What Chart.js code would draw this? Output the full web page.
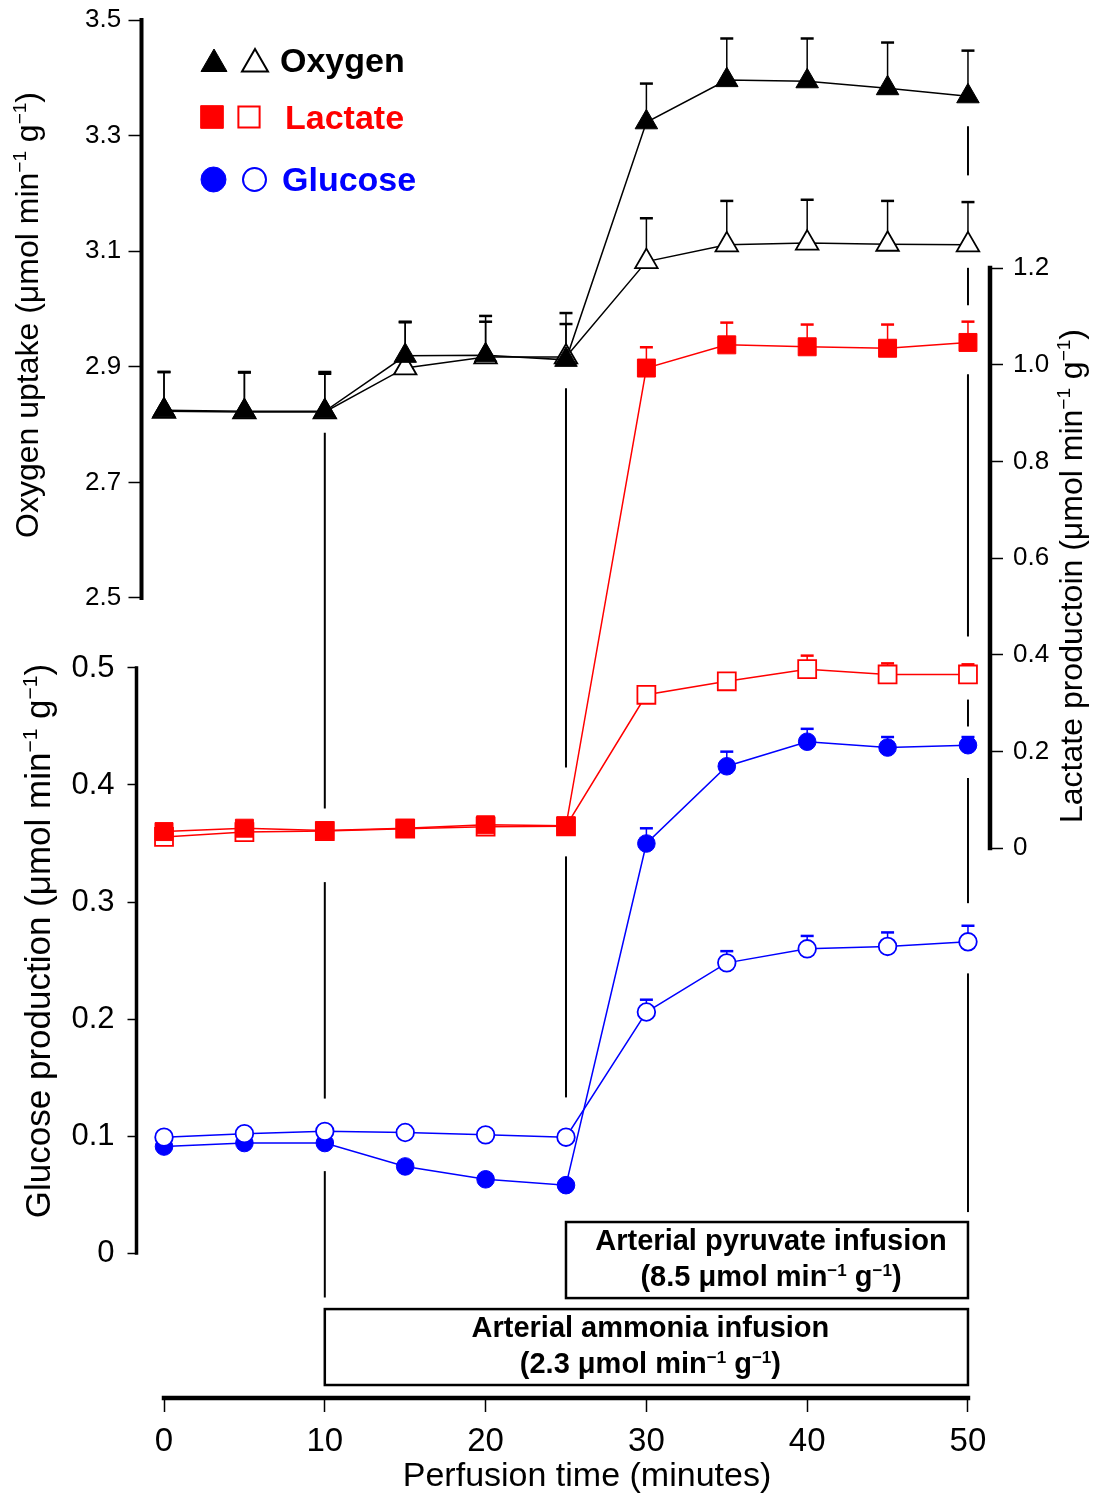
<!DOCTYPE html>
<html>
<head>
<meta charset="utf-8">
<title>Perfusion time course</title>
<script src="https://cdn.jsdelivr.net/npm/chart.js@4.4.1/dist/chart.umd.min.js"></script>
<style>
  html, body { margin: 0; padding: 0; background: #fff; }
  #wrap { position: relative; width: 1096px; height: 1495px; }
</style>
</head>
<body>
<div id="wrap"><canvas id="chart"></canvas></div>
<script>
const FONT = '"Liberation Sans", Arial, Helvetica, sans-serif';
const BLACK = '#000000';
const RED = '#ff0000';
const BLUE = '#0000ff';

// sampling times (minutes)
const times = [0, 5, 10, 15, 20, 25, 30, 35, 40, 45, 50];

// oxygen uptake (umol/min/g), filled and open symbols, + SEM
const oxygenFilled    = [2.825, 2.823, 2.823, 2.919, 2.920, 2.912, 3.323, 3.396, 3.394, 3.382, 3.368];
const oxygenFilledErr = [0.066, 0.068, 0.068, 0.058, 0.068, 0.081, 0.067, 0.072, 0.074, 0.079, 0.079];
const oxygenOpen      = [2.823, 2.822, 2.822, 2.898, 2.917, 2.917, 3.082, 3.111, 3.114, 3.112, 3.111];
const oxygenOpenErr   = [0.068, 0.068, 0.066, 0.080, 0.061, 0.057, 0.075, 0.076, 0.075, 0.075, 0.074];

// lactate production
const lactateFilled    = [0.034, 0.041, 0.036, 0.041, 0.048, 0.046, 0.993, 1.041, 1.037, 1.034, 1.046];
const lactateFilledErr = [0.012, 0.012, 0.012, 0.012, 0.012, 0.012, 0.043, 0.046, 0.046, 0.049, 0.043];
const lactateOpen      = [0.023, 0.033, 0.035, 0.040, 0.044, 0.045, 0.317, 0.345, 0.370, 0.359, 0.359];
const lactateOpenErr   = [0.010, 0.010, 0.010, 0.010, 0.010, 0.010, 0.012, 0.012, 0.028, 0.023, 0.021];

// glucose production
const glucoseFilled    = [0.091, 0.094, 0.094, 0.074, 0.063, 0.058, 0.350, 0.416, 0.437, 0.432, 0.434];
const glucoseFilledErr = [0.004, 0.004, 0.004, 0.004, 0.004, 0.004, 0.013, 0.0125, 0.011, 0.009, 0.007];
const glucoseOpen      = [0.099, 0.102, 0.104, 0.103, 0.101, 0.099, 0.206, 0.248, 0.260, 0.262, 0.266];
const glucoseOpenErr   = [0.004, 0.004, 0.004, 0.004, 0.004, 0.004, 0.0105, 0.010, 0.011, 0.012, 0.0137];

// tick values
const timeTicks = [0, 10, 20, 30, 40, 50];
const oxygenTicks = [2.5, 2.7, 2.9, 3.1, 3.3, 3.5];
const lactateTicks = [0, 0.2, 0.4, 0.6, 0.8, 1.0, 1.2];
const glucoseTicks = [0, 0.1, 0.2, 0.3, 0.4, 0.5];

// every y axis spans the whole plot height, only part of it carries ticks
const timeRange = [-1.4, 51.37];
const oxygenRange = [1.1159, 3.5];
const glucoseRange = [-0.1239, 1.0538];
const lactateRange = [-1.1379, 1.7131];

// broken vertical guides at the infusion times (glucose-axis units)
const guideTimes = [10, 25, 50];
const guideSegments = [
  [[0.701, 0.380], [0.317, 0.132], [0.070, -0.038]],
  [[0.739, 0.415], [0.339, 0.133]],
  [[0.963, 0.921], [0.842, 0.810], [0.751, 0.527], [0.473, 0.450], [0.406, 0.299], [0.239, 0.035]]
];

// infusion periods (boxes under the curves, glucose-axis units for top/bottom)
const infusionNames = ['Arterial pyruvate infusion', 'Arterial ammonia infusion'];
const infusionDoses = ['(8.5 μmol min^{−1} g^{−1})', '(2.3 μmol min^{−1} g^{−1})'];
const infusionStart = [25, 10];
const infusionEnd = [50, 50];
const infusionTop = [0.0265, -0.0479];
const infusionBottom = [-0.0385, -0.1128];

const oxygenTitle = 'Oxygen uptake (μmol min^{−1} g^{−1})';
const lactateTitle = 'Lactate productoin (μmol min^{−1} g^{−1})';
const glucoseTitle = 'Glucose production (μmol min^{−1} g^{−1})';
const timeTitle = 'Perfusion time (minutes)';

const legendNames = ['Oxygen', 'Lactate', 'Glucose'];
const legendColors = [BLACK, RED, BLUE];

function points(values) {
  return times.map((t, i) => ({ x: t, y: values[i] }));
}

function series(label, values, errors, axis, color, style, radius, filled) {
  return {
    label,
    data: points(values),
    errors,
    yAxisID: axis,
    borderColor: color,
    borderWidth: 1.5,
    backgroundColor: color,
    pointStyle: style,
    pointRadius: radius,
    pointHoverRadius: radius,
    pointBackgroundColor: filled ? color : '#ffffff',
    pointBorderColor: color,
    pointBorderWidth: filled ? 1 : 1.8,
    fill: false,
    tension: 0
  };
}

// text with ^{...} superscripts, x/y is the baseline anchor
function drawRich(ctx, text, x, y, size, opts) {
  const parts = [];
  text.split(/(\^\{[^}]*\})/).forEach(p => {
    if (!p) return;
    if (p.startsWith('^{')) parts.push({ t: p.slice(2, -1), sup: true });
    else parts.push({ t: p, sup: false });
  });
  const weight = opts.bold ? 'bold ' : '';
  const fontFor = sup => `${weight}${sup ? Math.round(size * 0.6) : size}px ${FONT}`;
  let width = 0;
  parts.forEach(p => {
    ctx.font = fontFor(p.sup);
    p.w = ctx.measureText(p.t).width;
    width += p.w;
  });
  ctx.save();
  ctx.translate(x, y);
  if (opts.rotate) ctx.rotate(opts.rotate);
  ctx.fillStyle = opts.color || BLACK;
  ctx.textBaseline = 'alphabetic';
  ctx.textAlign = 'left';
  let cx = opts.align === 'left' ? 0 : -width / 2;
  parts.forEach(p => {
    ctx.font = fontFor(p.sup);
    ctx.fillText(p.t, cx, p.sup ? -size * 0.36 : 0);
    cx += p.w;
  });
  ctx.restore();
}

function drawGuides(chart) {
  const { ctx, scales: { x, yG } } = chart;
  ctx.save();
  ctx.strokeStyle = BLACK;
  ctx.lineWidth = 2;
  guideTimes.forEach((t, i) => {
    const px = x.getPixelForValue(t);
    guideSegments[i].forEach(([a, b]) => {
      ctx.beginPath();
      ctx.moveTo(px, yG.getPixelForValue(a));
      ctx.lineTo(px, yG.getPixelForValue(b));
      ctx.stroke();
    });
  });
  ctx.restore();
}

function drawErrorBars(chart) {
  const ctx = chart.ctx;
  const xs = chart.scales.x;
  chart.data.datasets.forEach(ds => {
    const ys = chart.scales[ds.yAxisID];
    ctx.save();
    ctx.strokeStyle = ds.borderColor;
    ds.data.forEach((pt, i) => {
      const px = xs.getPixelForValue(pt.x);
      const y0 = ys.getPixelForValue(pt.y);
      const y1 = ys.getPixelForValue(pt.y + ds.errors[i]);
      ctx.lineWidth = 1.5;
      ctx.beginPath();
      ctx.moveTo(px, y0);
      ctx.lineTo(px, y1);
      ctx.stroke();
      ctx.lineWidth = 2.5;
      ctx.beginPath();
      ctx.moveTo(px - 6.5, y1);
      ctx.lineTo(px + 6.5, y1);
      ctx.stroke();
    });
    ctx.restore();
  });
}

function drawSpines(chart) {
  const { ctx, scales: { x, yO, yG, yL } } = chart;
  const vLine = (scale, px, ticks, w) => {
    ctx.lineWidth = w;
    ctx.beginPath();
    ctx.moveTo(px, scale.getPixelForValue(ticks[0]));
    ctx.lineTo(px, scale.getPixelForValue(ticks[ticks.length - 1]));
    ctx.stroke();
  };
  ctx.save();
  ctx.strokeStyle = BLACK;
  ctx.lineCap = 'square';
  vLine(yO, yO.right, oxygenTicks, 4);
  vLine(yG, yG.right, glucoseTicks, 3.5);
  vLine(yL, yL.left, lactateTicks, 4.5);
  ctx.lineWidth = 4.5;
  ctx.beginPath();
  ctx.moveTo(x.getPixelForValue(timeTicks[0]), x.top);
  ctx.lineTo(x.getPixelForValue(timeTicks[timeTicks.length - 1]), x.top);
  ctx.stroke();
  ctx.restore();
}

function drawInfusionBoxes(chart) {
  const { ctx, scales: { x, yG } } = chart;
  infusionNames.forEach((name, i) => {
    const left = x.getPixelForValue(infusionStart[i]);
    const right = x.getPixelForValue(infusionEnd[i]);
    const top = yG.getPixelForValue(infusionTop[i]);
    const bottom = yG.getPixelForValue(infusionBottom[i]);
    ctx.save();
    ctx.fillStyle = '#ffffff';
    ctx.strokeStyle = BLACK;
    ctx.lineWidth = 2.5;
    ctx.fillRect(left, top, right - left, bottom - top);
    ctx.strokeRect(left, top, right - left, bottom - top);
    ctx.restore();
    const cx = (left + right) / 2 + 4;
    drawRich(ctx, name, cx, top + 28, 29, { bold: true });
    drawRich(ctx, infusionDoses[i], cx, top + 64, 29, { bold: true });
  });
}

function drawTitles(chart) {
  const ctx = chart.ctx;
  const up = -Math.PI / 2;
  drawRich(ctx, oxygenTitle, 38, 315, 32, { rotate: up });
  drawRich(ctx, glucoseTitle, 50, 941, 35, { rotate: up });
  drawRich(ctx, lactateTitle, 1082, 576, 32, { rotate: up });
  drawRich(ctx, timeTitle, 587, 1486, 34, {});
}

function marker(ctx, style, radius, color, filled, x, y) {
  ctx.save();
  ctx.fillStyle = filled ? color : '#ffffff';
  ctx.strokeStyle = color;
  ctx.lineWidth = filled ? 1 : 2;
  Chart.helpers.drawPoint(ctx, { pointStyle: style, radius, borderWidth: ctx.lineWidth, rotation: 0 }, x, y);
  ctx.restore();
}

function drawLegend(chart) {
  const ctx = chart.ctx;
  marker(ctx, 'triangle', 15, BLACK, true, 214, 64);
  marker(ctx, 'triangle', 15, BLACK, false, 255, 64);
  marker(ctx, 'rect', 16, RED, true, 212, 117);
  marker(ctx, 'rect', 15, RED, false, 249, 117);
  marker(ctx, 'circle', 12.5, BLUE, true, 213.5, 179.5);
  marker(ctx, 'circle', 11.5, BLUE, false, 254.5, 179.5);
  const textX = [280, 285, 282];
  const textY = [72, 129, 191];
  legendNames.forEach((name, i) => {
    drawRich(ctx, name, textX[i], textY[i], 34, { bold: true, color: legendColors[i], align: 'left' });
  });
}

const figureExtras = {
  id: 'figureExtras',
  beforeDatasetsDraw(chart) {
    drawGuides(chart);
    drawErrorBars(chart);
  },
  afterDraw(chart) {
    drawSpines(chart);
    drawInfusionBoxes(chart);
    drawTitles(chart);
    drawLegend(chart);
  }
};

// fixed box sizes so the plot area lands where the axes need it
function fixWidth(w) {
  return scale => {
    scale.width = w;
    scale.paddingTop = 0;
    scale.paddingBottom = 0;
  };
}

function yAxis(range, ticks, position, weight, size, tickLength, padding, width, mirror) {
  return {
    type: 'linear',
    position,
    weight,
    min: range[0],
    max: range[1],
    afterBuildTicks: scale => { scale.ticks = ticks.map(v => ({ value: v })); },
    afterFit: fixWidth(width),
    border: { display: false },
    grid: { drawOnChartArea: false, drawTicks: true, tickLength, tickColor: BLACK, tickWidth: 1.5 },
    ticks: {
      autoSkip: false,
      mirror: !!mirror,
      color: BLACK,
      padding,
      font: { family: FONT, size },
      callback: v => (v === 0 ? '0' : v.toFixed(1))
    }
  };
}

new Chart(document.getElementById('chart'), {
  type: 'line',
  data: {
    datasets: [
      series('Glucose, open', glucoseOpen, glucoseOpenErr, 'yG', BLUE, 'circle', 8.8, false),
      series('Glucose, filled', glucoseFilled, glucoseFilledErr, 'yG', BLUE, 'circle', 8.8, true),
      series('Oxygen, filled', oxygenFilled, oxygenFilledErr, 'yO', BLACK, 'triangle', 13, true),
      series('Oxygen, open', oxygenOpen, oxygenOpenErr, 'yO', BLACK, 'triangle', 13, false),
      series('Lactate, filled', lactateFilled, lactateFilledErr, 'yL', RED, 'rect', 12.7, true),
      series('Lactate, open', lactateOpen, lactateOpenErr, 'yL', RED, 'rect', 12.7, false)
    ]
  },
  options: {
    responsive: true,
    maintainAspectRatio: false,
    animation: false,
    events: [],
    layout: { padding: { left: 0, right: 0, top: 20, bottom: 0 } },
    plugins: {
      legend: { display: false },
      tooltip: { enabled: false }
    },
    scales: {
      x: {
        type: 'linear',
        position: 'bottom',
        min: timeRange[0],
        max: timeRange[1],
        afterBuildTicks: scale => { scale.ticks = timeTicks.map(v => ({ value: v })); },
        afterFit: scale => {
          scale.height = 97;
          scale.paddingLeft = 0;
          scale.paddingRight = 0;
        },
        border: { display: false },
        grid: { drawOnChartArea: false, drawTicks: true, tickLength: 14, tickColor: BLACK, tickWidth: 1.5 },
        ticks: {
          autoSkip: false,
          maxRotation: 0,
          color: BLACK,
          padding: 10,
          font: { family: FONT, size: 33 }
        }
      },
      yG: yAxis(glucoseRange, glucoseTicks, 'left', 2, 31, 9, 13, 136.5),
      // the oxygen axis box is only a few px wide; mirrored labels are not
      // clipped to it, the negative padding moves them back left of the ticks
      yO: yAxis(oxygenRange, oxygenTicks, 'left', 1, 26, 13, -56.5, 5, true),
      yL: yAxis(lactateRange, lactateTicks, 'right', 0, 26, 13, 10, 106)
    }
  },
  plugins: [figureExtras]
});
</script>
</body>
</html>
